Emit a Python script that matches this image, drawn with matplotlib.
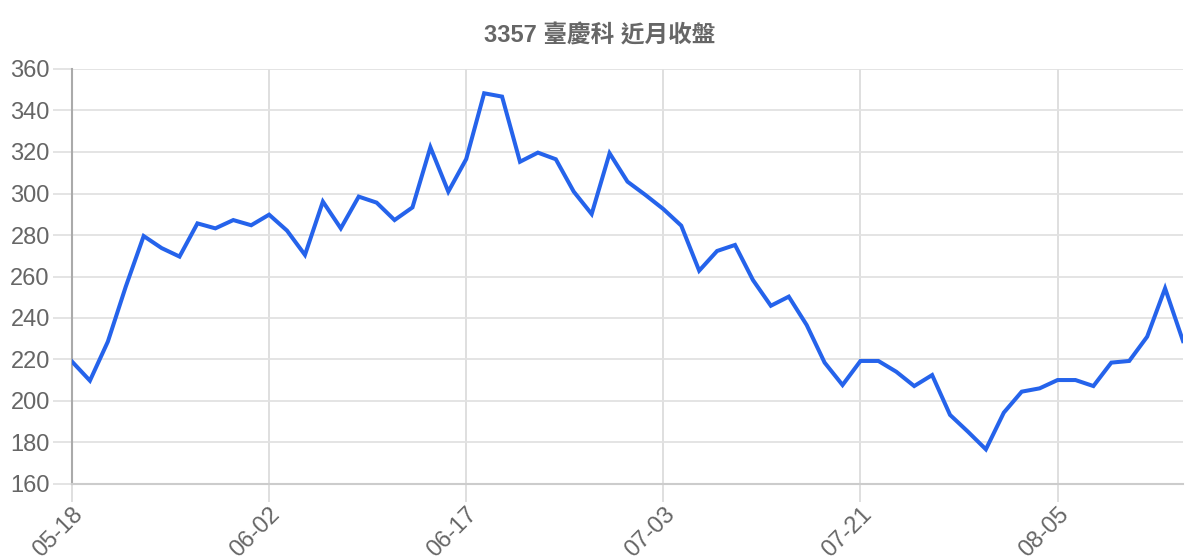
import matplotlib
matplotlib.use("Agg")
import matplotlib.pyplot as plt

# 3357 臺慶科 近月收盤 (closing prices)
closes = [
    219.0, 209.8, 228.6, 255.1, 279.5, 273.7, 269.6, 285.6, 283.2, 287.2,
    284.7, 289.8, 282.1, 270.4, 296.1, 283.2, 298.5, 295.6, 287.2, 293.3,
    322.3, 300.9, 316.6, 348.3, 346.7, 315.3, 319.7, 316.5, 300.9, 290.1,
    319.4, 305.7, 299.3, 292.5, 284.5, 262.8, 272.3, 275.2, 258.3, 245.9,
    250.3, 236.6, 218.5, 207.7, 219.3, 219.3, 214.1, 207.2, 212.5, 193.3,
    185.2, 176.7, 194.4, 204.5, 206.1, 210.1, 210.1, 207.2, 218.5, 219.3,
    231.0, 254.3, 228.9,
]
tick_idx = [0, 11, 22, 33, 44, 55]
tick_labels = ["05-18", "06-02", "06-17", "07-03", "07-21", "08-05"]
y_ticks = list(range(160, 361, 20))
title = "3357 臺慶科 近月收盤"

fonts = ["Liberation Sans", "Noto Sans CJK TC", "DejaVu Sans"]
plt.rcParams["font.family"] = fonts

fig = plt.figure(figsize=(12, 5.6), dpi=100)
ax = fig.add_axes([72 / 1200, 1 - 484 / 560, (1183 - 72) / 1200, (484 - 69) / 560])

x = list(range(len(closes)))
ax.plot(x, closes, color="#2563eb", lw=2.9, solid_joinstyle="miter", zorder=3)

ax.set_xlim(0, len(closes) - 1)
ax.set_ylim(160, 360)
ax.set_yticks(y_ticks)
ax.set_xticks(tick_idx)
ax.set_xticklabels(tick_labels, rotation=45, ha="right", va="top", rotation_mode="anchor")

ax.grid(True, color="#e2e2e2", lw=1.3)
ax.xaxis.grid(True, color="#dcdcdc", lw=1.3)
ax.set_axisbelow(True)

for s in ["top", "right"]:
    ax.spines[s].set_visible(False)
ax.spines["left"].set_color("#aaaaaa")
ax.spines["left"].set_linewidth(1.5)
ax.spines["bottom"].set_color("#cccccc")
ax.spines["bottom"].set_linewidth(1.5)

ax.tick_params(axis="y", length=14, width=1.3, color="#e2e2e2", pad=2,
               labelsize=17, labelcolor="#666666")
ax.tick_params(axis="x", length=13, width=1.3, color="#dcdcdc", pad=1,
               labelsize=17, labelcolor="#666666")

fig.text(0.5, 1 - 36 / 560, title, ha="center", va="center",
         fontsize=17, fontweight="bold", color="#666666", family=fonts)

fig.savefig("out.png", dpi=100, facecolor="white")
